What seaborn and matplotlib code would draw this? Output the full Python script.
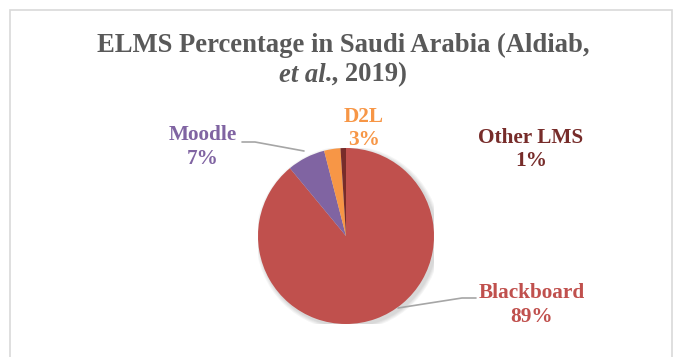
import matplotlib
matplotlib.use("Agg")
import matplotlib.pyplot as plt
import seaborn as sns
from matplotlib.patches import Rectangle, Circle

sns.set_theme(style="white")
plt.rcParams['font.family'] = ['Liberation Serif', 'DejaVu Serif']

categories = ["Blackboard", "Moodle", "D2L", "Other LMS"]
values = [89, 7, 3, 1]
colors = ["#C0504D", "#8064A2", "#F79646", "#772C2A"]
label_texts = [f"{c}\n{v}%" for c, v in zip(categories, values)]

W, H = 683, 357
fig = plt.figure(figsize=(W / 100, H / 100), dpi=100)
fig.patch.set_facecolor("white")

# chart border
fig.patches.append(Rectangle((10 / W, -0.05), 662 / W, (H - 10) / H + 0.05,
                             transform=fig.transFigure, fill=False,
                             edgecolor="#D9D9D9", linewidth=1.2))

CX, CY, R = 346, 236, 88
ax = fig.add_axes([(CX - R) / W, (H - CY - R) / H, 2 * R / W, 2 * R / H])
ax.set_xlim(-1, 1)
ax.set_ylim(-1, 1)
ax.set_aspect("equal")
ax.axis("off")

def px(x, y):
    return ((x - CX) / R, (CY - y) / R)

# soft shadow
for i in range(4):
    ax.add_patch(Circle((0.025, -0.025), 1.0 + 0.012 * (4 - i), color="black",
                        alpha=0.04, zorder=0, linewidth=0))

ax.pie(values, colors=colors, startangle=90, counterclock=False,
       radius=1.0, wedgeprops=dict(linewidth=0), frame=False)
ax.set_xlim(-1, 1)
ax.set_ylim(-1, 1)

# leader lines
lx, ly = zip(*[px(242, 142), px(255, 142), px(304, 151)])
ax.plot(lx, ly, color="#A6A6A6", lw=1.2, clip_on=False, zorder=5)
lx, ly = zip(*[px(398, 308), px(462, 298), px(476, 298)])
ax.plot(lx, ly, color="#A6A6A6", lw=1.2, clip_on=False, zorder=5)

label_pos = [(532, 305), (203, 147), (364, 128), (531, 149)]
for txt, (x, y), c in zip(label_texts, label_pos, colors):
    fig.text(x / W, 1 - y / H, txt, ha="center", va="center", color=c,
             fontsize=15.3, fontweight="bold", linespacing=1.2, zorder=10)

# title
tcol = "#595959"
TFS = 19.2
fig.text(343 / W, 1 - 45 / H, "ELMS Percentage in Saudi Arabia (Aldiab,",
         ha="center", va="center", color=tcol, fontsize=TFS, fontweight="bold")
fig.canvas.draw()
r = fig.canvas.get_renderer()
t1 = fig.text(0, 1 - 75 / H, "et al", ha="left", va="center", color=tcol,
              fontsize=TFS, fontweight="bold", fontstyle="italic")
t2 = fig.text(0, 1 - 75 / H, "., 2019)", ha="left", va="center", color=tcol,
              fontsize=TFS, fontweight="bold")
w1 = t1.get_window_extent(r).width
w2 = t2.get_window_extent(r).width
start = 343 - (w1 + w2) / 2
t1.set_x(start / W)
t2.set_x((start + w1) / W)

fig.savefig("out.png", dpi=100, facecolor="white")
